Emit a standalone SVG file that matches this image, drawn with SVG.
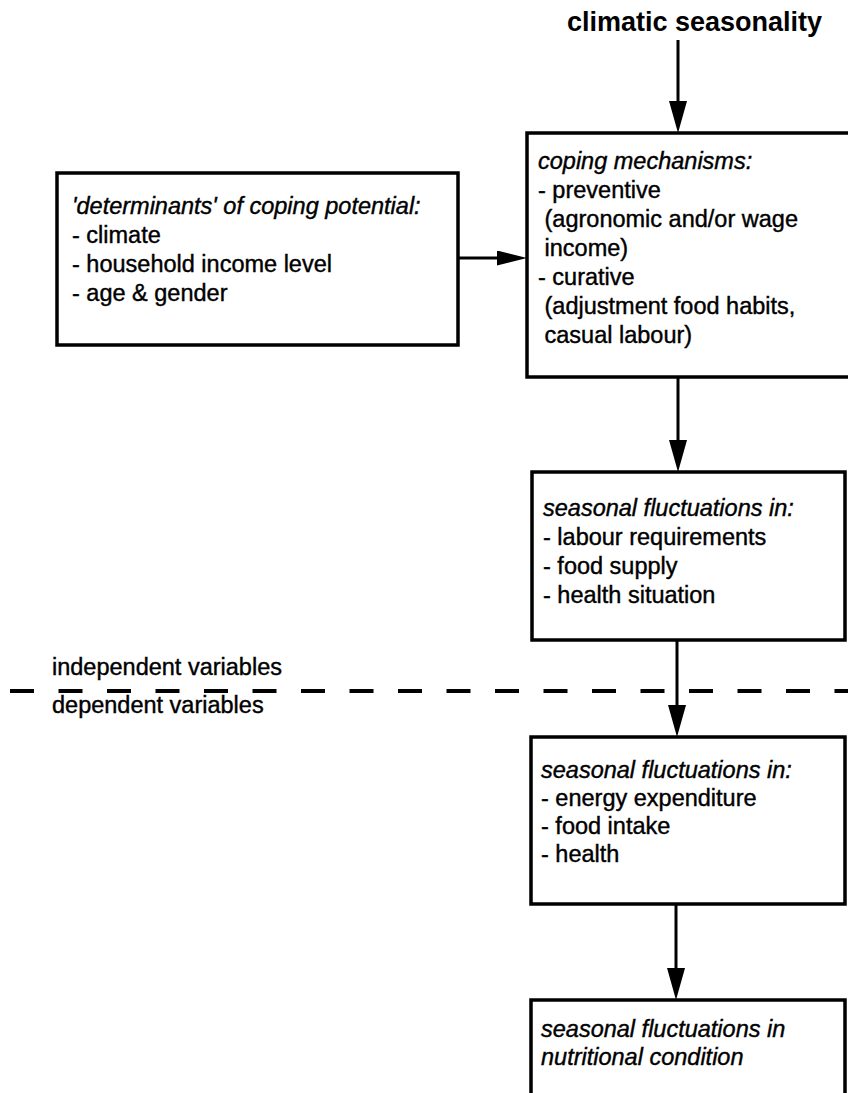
<svg xmlns="http://www.w3.org/2000/svg" width="848" height="1093" viewBox="0 0 848 1093">
  <style>
    .box { fill: #fff; stroke: #000; stroke-width: 3.5; }
    .t { font-family: "Liberation Sans", Arial, sans-serif; font-size: 23.5px; fill: #000; stroke: #000; stroke-width: 0.4; }
    .i { font-style: italic; }
    .title { font-family: "Liberation Sans", Arial, sans-serif; font-size: 27px; font-weight: bold; fill: #000; }
    .conn { stroke: #000; stroke-width: 3; fill: none; }
    .dash { stroke: #000; stroke-width: 4; stroke-dasharray: 24 24.5; fill: none; }
  </style>
  <defs>
    <marker id="ah" markerUnits="userSpaceOnUse" markerWidth="33" markerHeight="19" refX="4" refY="9" orient="auto">
      <path d="M0,0 L32,9 L0,18 z" fill="#000"/>
    </marker>
    <marker id="ahs" markerUnits="userSpaceOnUse" markerWidth="32" markerHeight="16" refX="4" refY="7.5" orient="auto">
      <path d="M0,0 L30,7.5 L0,15 z" fill="#000"/>
    </marker>
  </defs>

  <text class="title" x="567" y="31">climatic seasonality</text>

  <g id="divider">
    <line class="dash" x1="10" y1="691" x2="848" y2="691"/>
    <text class="t" x="52" y="675">independent variables</text>
    <text class="t" x="52" y="713">dependent variables</text>
  </g>

  <g id="determinants">
    <rect class="box" x="57" y="173" width="401" height="172"/>
    <text class="t" x="72" y="214"><tspan class="i">'determinants' of coping potential:</tspan><tspan x="72" dy="29">- climate</tspan><tspan x="72" dy="29">- household income level</tspan><tspan x="72" dy="29">- age &amp; gender</tspan></text>
  </g>

  <g id="coping">
    <rect class="box" x="527" y="133" width="330" height="244"/>
    <text class="t" x="538" y="169"><tspan class="i">coping mechanisms:</tspan><tspan x="538" dy="29">- preventive</tspan><tspan x="538" dy="29"> (agronomic and/or wage</tspan><tspan x="538" dy="29"> income)</tspan><tspan x="538" dy="29">- curative</tspan><tspan x="538" dy="29"> (adjustment food habits,</tspan><tspan x="538" dy="29"> casual labour)</tspan></text>
  </g>

  <g id="fluct1">
    <rect class="box" x="532" y="472" width="313" height="168"/>
    <text class="t" x="543" y="516"><tspan class="i">seasonal fluctuations in:</tspan><tspan x="543" dy="29">- labour requirements</tspan><tspan x="543" dy="29">- food supply</tspan><tspan x="543" dy="29">- health situation</tspan></text>
  </g>

  <g id="fluct2">
    <rect class="box" x="531" y="737" width="314" height="167"/>
    <text class="t" x="541" y="778"><tspan class="i">seasonal fluctuations in:</tspan><tspan x="541" dy="28">- energy expenditure</tspan><tspan x="541" dy="28">- food intake</tspan><tspan x="541" dy="28">- health</tspan></text>
  </g>

  <g id="nutrition">
    <rect class="box" x="531" y="1000" width="314" height="110"/>
    <text class="t i" x="541" y="1037">seasonal fluctuations in<tspan x="541" dy="28">nutritional condition</tspan></text>
  </g>

  <g id="connectors">
    <line class="conn" x1="678" y1="40" x2="678" y2="105" marker-end="url(#ah)"/>
    <line class="conn" x1="678" y1="377" x2="678" y2="444" marker-end="url(#ah)"/>
    <line class="conn" x1="677" y1="640" x2="677" y2="709" marker-end="url(#ah)"/>
    <line class="conn" x1="676" y1="904" x2="676" y2="972" marker-end="url(#ah)"/>
    <line class="conn" x1="458" y1="258" x2="501" y2="258" marker-end="url(#ahs)"/>
  </g>
</svg>
